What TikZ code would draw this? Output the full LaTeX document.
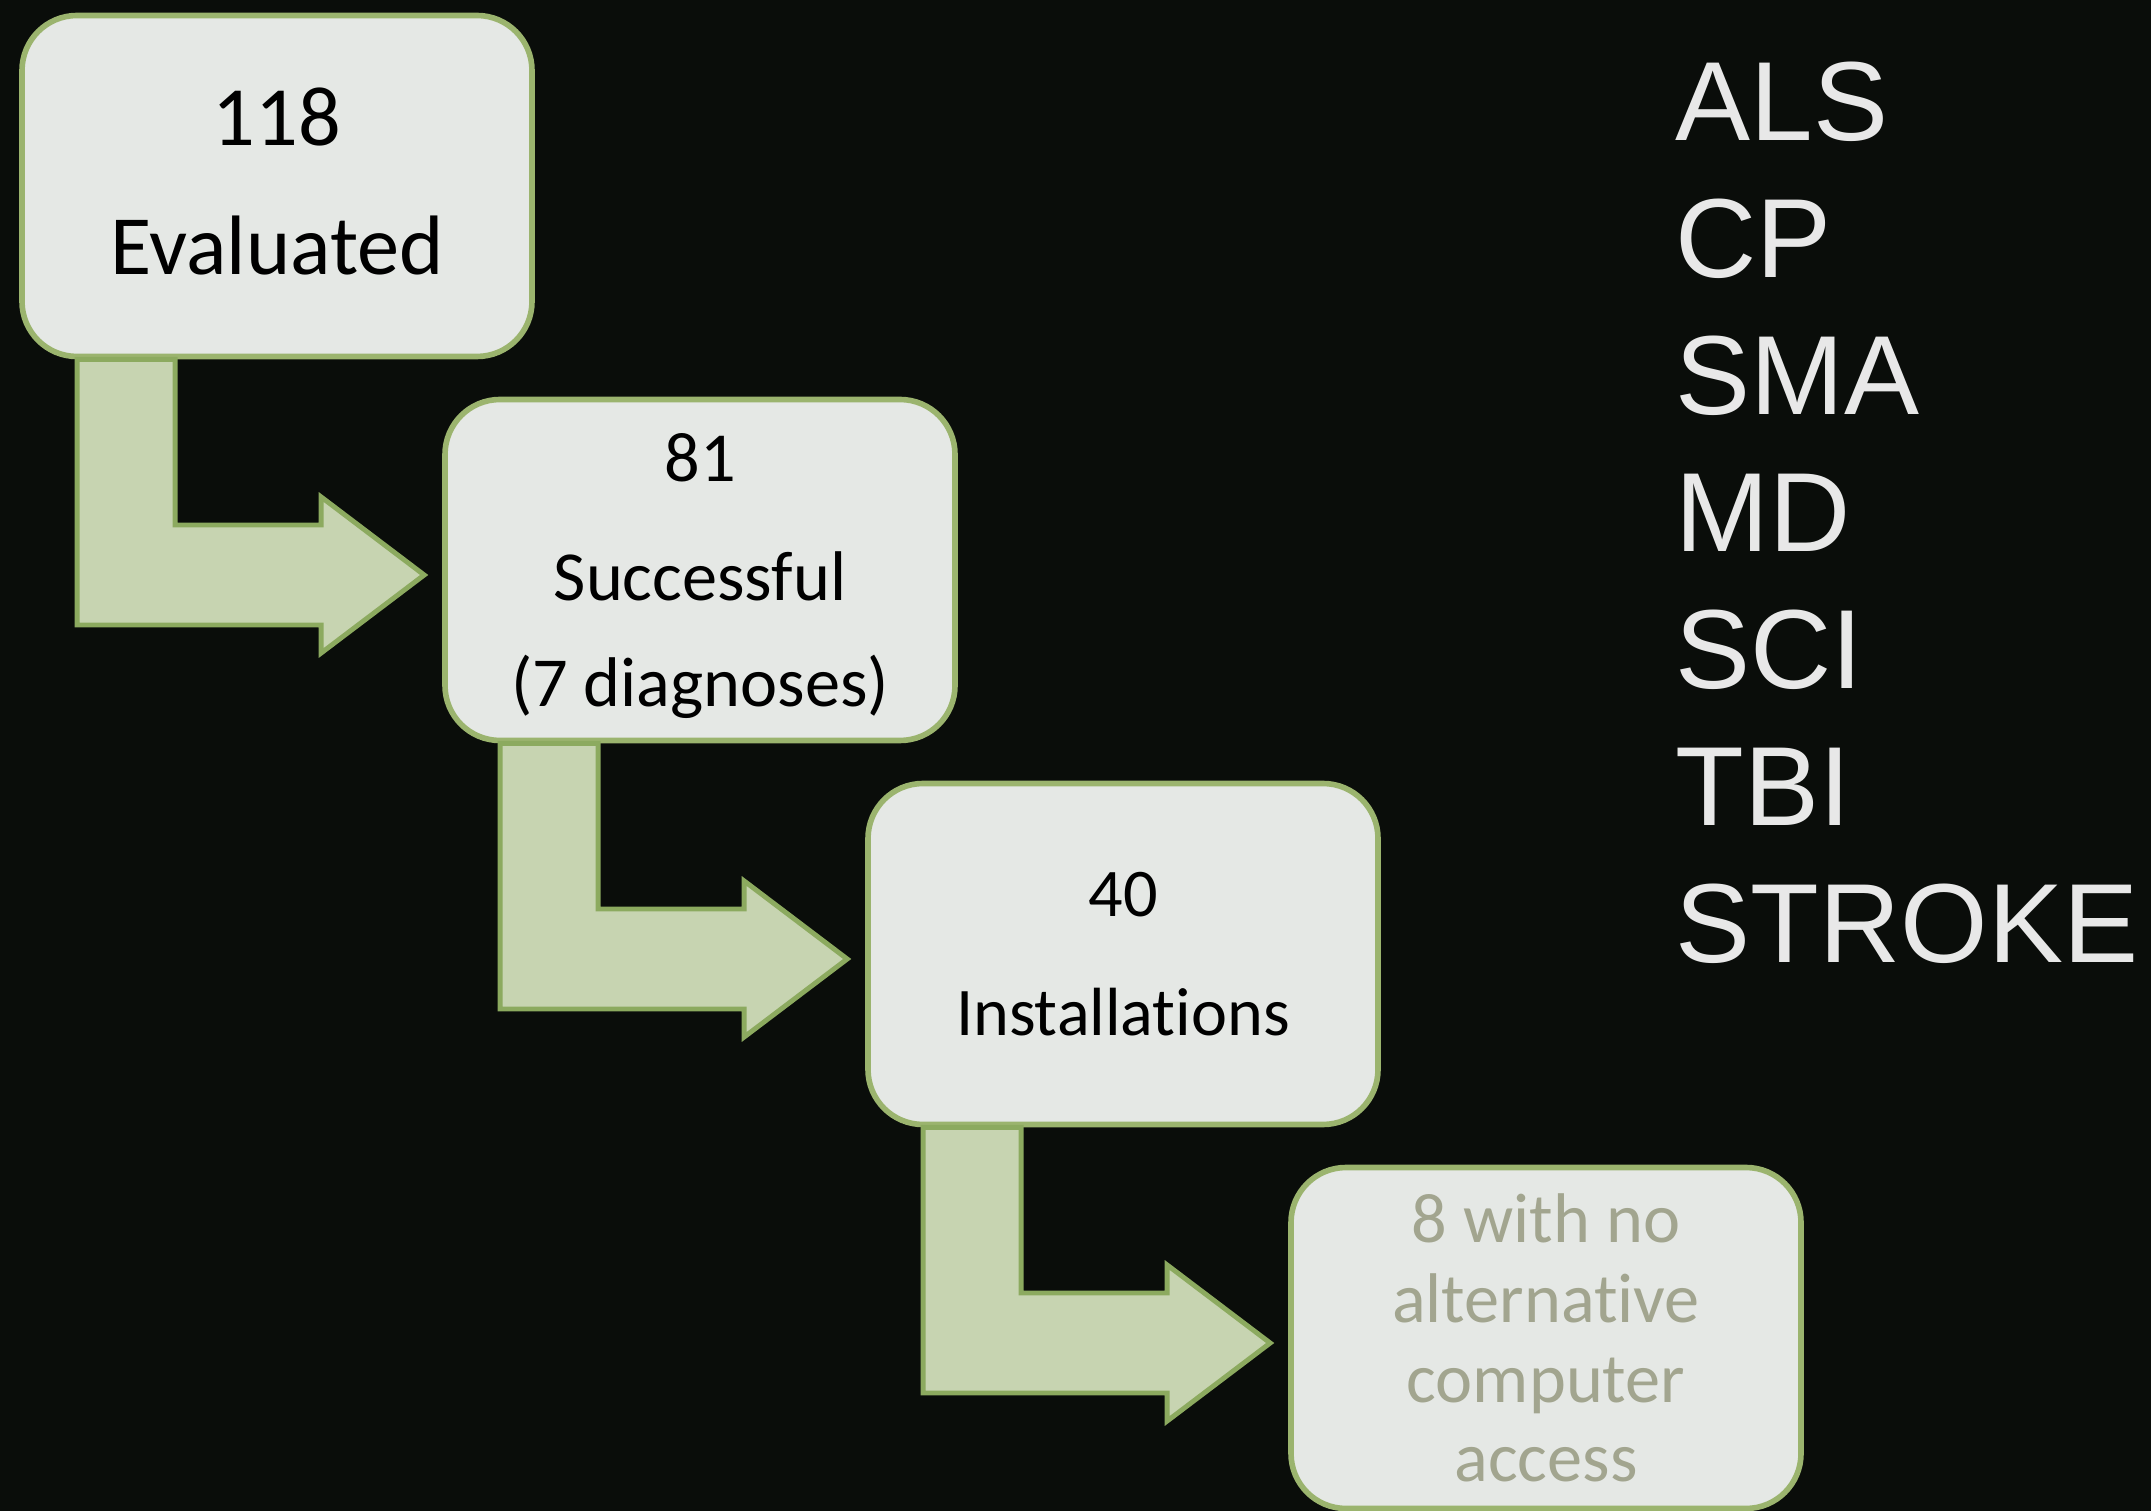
\documentclass[tikz,border=0pt]{standalone}
\usepackage{fontspec}
\setmainfont{Carlito}[Ligatures=NoCommon]
\newfontfamily\listfont{Liberation Sans}
\usetikzlibrary{positioning,calc}

\definecolor{bgdark}{RGB}{10,13,10}
\definecolor{boxfill}{RGB}{229,232,229}
\definecolor{boxline}{RGB}{155,180,110}
\definecolor{arrowfill}{RGB}{199,212,177}
\definecolor{arrowline}{RGB}{140,170,95}
\definecolor{fadedtext}{RGB}{162,165,143}
\definecolor{listtext}{RGB}{232,232,232}

\begin{document}
\begin{tikzpicture}[
    stagebox/.style={rectangle,rounded corners=0.55cm,draw=boxline,line width=1.6pt,fill=boxfill,minimum width=5.1cm,minimum height=3.41cm,align=center,text=black},
    flowarrow/.style={draw=arrowline,line width=1.4pt,fill=arrowfill,line join=miter}
]
    % Background
    \fill[bgdark] (0,0) rectangle (21.51,-15.11);
    \useasboundingbox (0,0) rectangle (21.51,-15.11);

    % Stages
    \node[stagebox,font=\fontsize{24}{36.7}\selectfont,text depth=2.5pt] (evaluated) at (2.77,-1.86) {118\\Evaluated};
    \node[stagebox,font=\fontsize{20}{30.4}\selectfont,text depth=0pt] (successful) at (7.0,-5.70) {81\\[3.5pt]Successful\\(7 diagnoses)};
    \node[stagebox,font=\fontsize{19.4}{33.9}\selectfont,text depth=-3pt] (installed) at (11.23,-9.54) {40\\Installations};
    \node[stagebox,font=\fontsize{20}{22.7}\selectfont,text=fadedtext] (noaccess) at (15.46,-13.38) {8 with no\\alternative\\computer\\access};

    % Evaluated -> Successful
    \draw[flowarrow] let \p1=(evaluated.south west), \p2=($(successful.west)+(-0.18,-0.05)$) in
        (\x1+0.58cm,\y1) -- (\x1+1.56cm,\y1) -- (\x1+1.56cm,\y2+0.5cm) -- (\x2-1.03cm,\y2+0.5cm)
        -- (\x2-1.03cm,\y2+0.78cm) -- (\p2) -- (\x2-1.03cm,\y2-0.78cm) -- (\x2-1.03cm,\y2-0.5cm)
        -- (\x1+0.58cm,\y2-0.5cm) -- cycle;

    % Successful -> Installations
    \draw[flowarrow] let \p1=(successful.south west), \p2=($(installed.west)+(-0.18,-0.05)$) in
        (\x1+0.58cm,\y1) -- (\x1+1.56cm,\y1) -- (\x1+1.56cm,\y2+0.5cm) -- (\x2-1.03cm,\y2+0.5cm)
        -- (\x2-1.03cm,\y2+0.78cm) -- (\p2) -- (\x2-1.03cm,\y2-0.78cm) -- (\x2-1.03cm,\y2-0.5cm)
        -- (\x1+0.58cm,\y2-0.5cm) -- cycle;

    % Installations -> no alternative access
    \draw[flowarrow] let \p1=(installed.south west), \p2=($(noaccess.west)+(-0.18,-0.05)$) in
        (\x1+0.58cm,\y1) -- (\x1+1.56cm,\y1) -- (\x1+1.56cm,\y2+0.5cm) -- (\x2-1.03cm,\y2+0.5cm)
        -- (\x2-1.03cm,\y2+0.78cm) -- (\p2) -- (\x2-1.03cm,\y2-0.78cm) -- (\x2-1.03cm,\y2-0.5cm)
        -- (\x1+0.58cm,\y2-0.5cm) -- cycle;

    % Diagnoses list
    \node[anchor=north west,inner sep=0,align=left,text=listtext,font=\listfont\fontsize{32}{39}\selectfont] (diagnoses) at (16.75,-0.61) {ALS\\CP\\SMA\\MD\\SCI\\TBI\\STROKE};
\end{tikzpicture}
\end{document}
